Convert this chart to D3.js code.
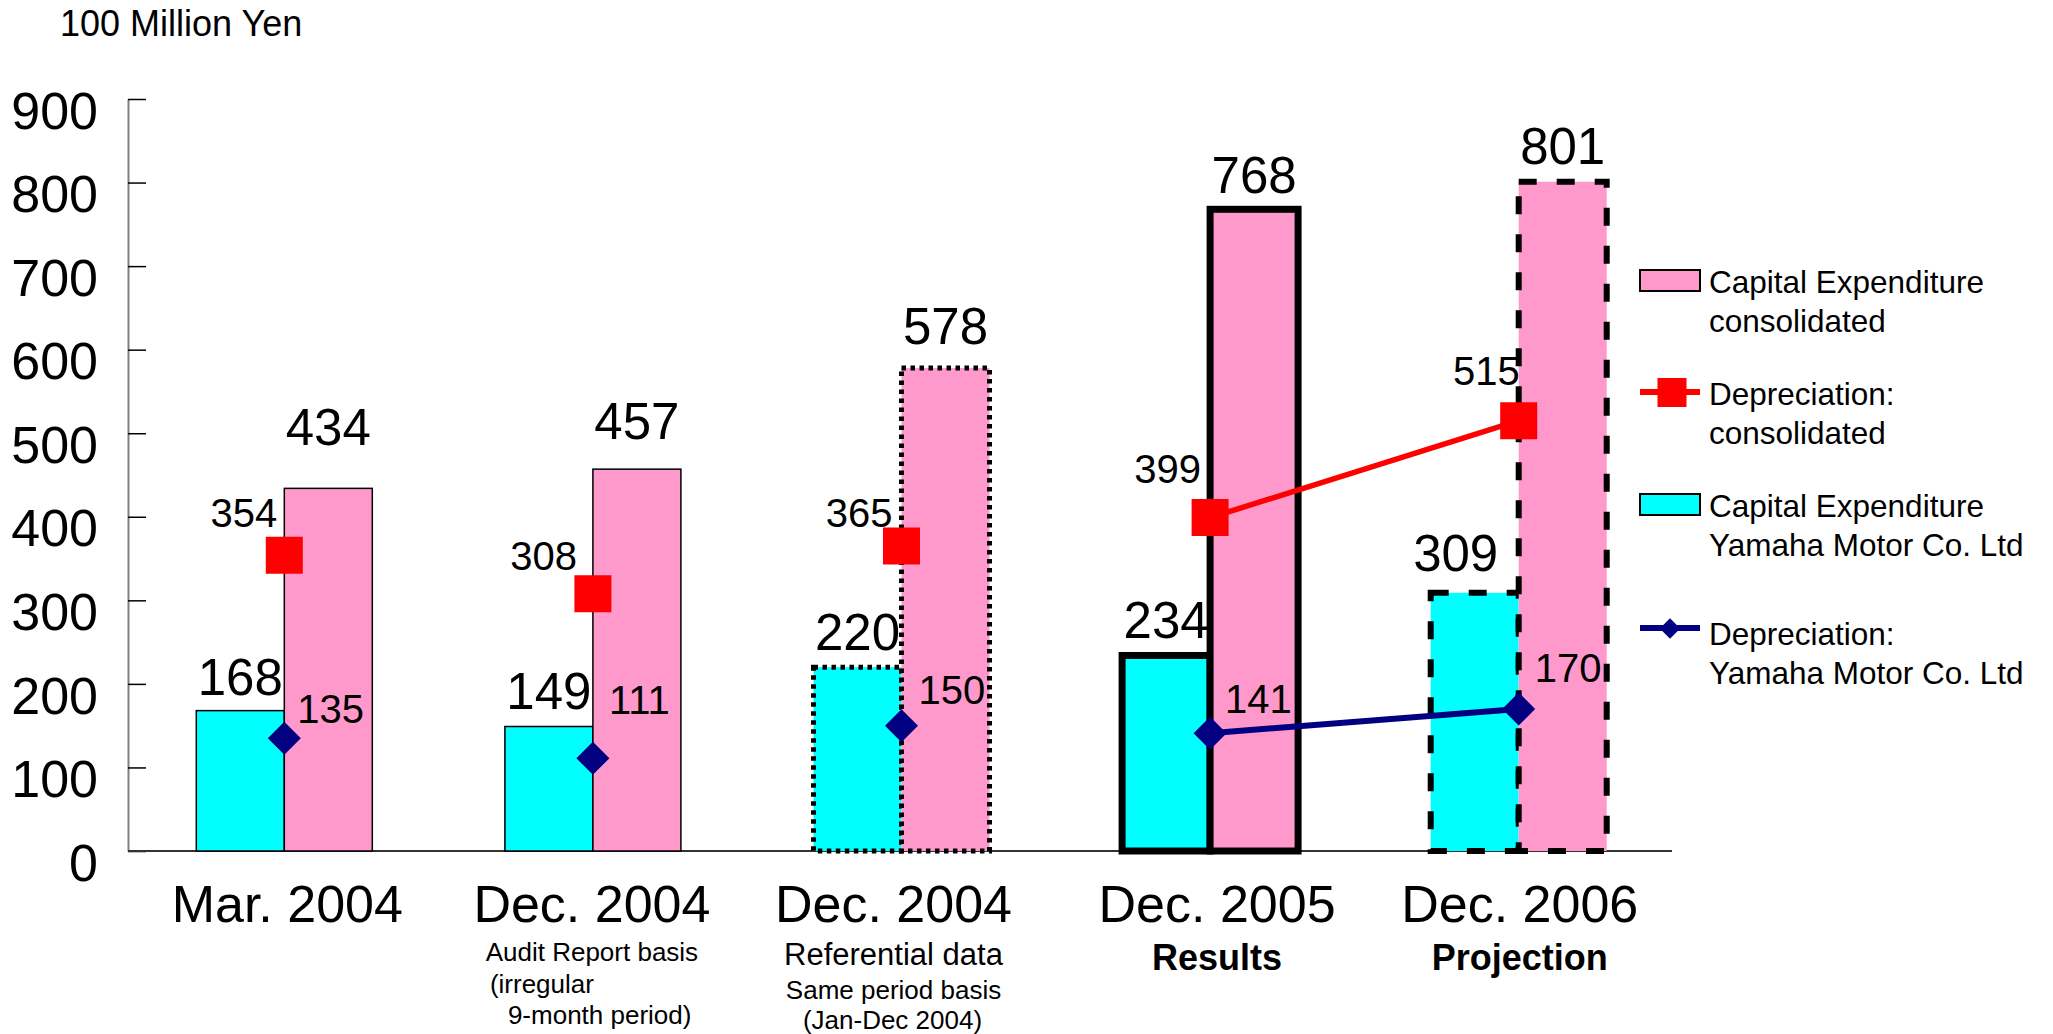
<!DOCTYPE html>
<html>
<head>
<meta charset="utf-8">
<script src="https://cdn.jsdelivr.net/npm/d3@7"></script>
<style>
  html, body { margin: 0; padding: 0; background: #fff; }
  svg { display: block; font-family: "Liberation Sans", Arial, Helvetica, sans-serif; }
</style>
</head>
<body>
<svg id="chart" width="2053" height="1034"></svg>
<script>
// ---- data (100 million yen) ----
const periods = ["Mar. 2004", "Dec. 2004", "Dec. 2004", "Dec. 2005", "Dec. 2006"];
const periodBasis = ["fiscal", "audit", "referential", "results", "projection"];
const periodNotes = [
  [],
  ["Audit Report basis", "(irregular", "9-month period)"],
  ["Referential data", "Same period basis", "(Jan-Dec 2004)"],
  ["Results"],
  ["Projection"]
];
const capexConsolidated = [434, 457, 578, 768, 801];
const capexYamaha = [168, 149, 220, 234, 309];
const deprConsolidated = [354, 308, 365, 399, 515];
const deprYamaha = [135, 111, 150, 141, 170];
const yTicks = [0, 100, 200, 300, 400, 500, 600, 700, 800, 900];
const unitLabel = "100 Million Yen";
const legendItems = [
  ["Capital Expenditure", "consolidated"],
  ["Depreciation:", "consolidated"],
  ["Capital Expenditure", "Yamaha Motor Co. Ltd"],
  ["Depreciation:", "Yamaha Motor Co. Ltd"]
];

// ---- label placement tweaks (pixels) ----
const consLabelLift = [43, 30, 24, 16, 18];
const yamahaLabelLift = [16, 18, 17, 17, 22];
const yamahaLabelShift = [0, 0, 0, 0, -19];
const deprConsLabelDy = [-28, -24, -19, -35, -36];
const deprConsLabelDx = [-7, -16, -9, -9, 1];
const deprYamahaLabelDy = [-15, -44, -22, -20, -27];
const deprYamahaLabelDx = [13, 16, 17, 15, 16];
const categoryDx = [3, -1, -8, 7, 1];

// ---- colours & outline styles ----
const PINK = "#FF99CC", CYAN = "#00FFFF", RED = "#FF0000", NAVY = "#000080";
const outline = {
  fiscal:      { w: 1.5, dash: null },
  audit:       { w: 1.5, dash: null },
  referential: { w: 5,   dash: "4.5,4.5" },
  results:     { w: 7,   dash: null },
  projection:  { w: 6,   dash: "18,20" }
};

const svg = d3.select("#chart");
const idx = d3.range(periods.length);

const x = d3.scaleBand().domain(idx).range([130, 1673]);
const barW = 88;
const sub = d3.scaleBand().domain(["yamaha", "cons"])
  .range([x.bandwidth() / 2 - barW, x.bandwidth() / 2 + barW]);
const cx = i => x(i) + x.bandwidth() / 2;
const y = d3.scaleLinear().domain([0, 900]).range([851, 99]);

// unit title
svg.append("text").attr("x", 60).attr("y", 36)
  .attr("font-size", 36).text(unitLabel);

// y axis (ticks point inward)
const yAxis = svg.append("g").attr("transform", "translate(128,0)")
  .call(d3.axisLeft(y).tickValues(yTicks).tickSize(-18).tickSizeOuter(0).tickPadding(30));
yAxis.select(".domain").attr("stroke", "#808080").attr("stroke-width", 2);
yAxis.selectAll(".tick line").attr("stroke", "#000").attr("stroke-width", 1.5);
yAxis.selectAll(".tick text")
  .attr("font-size", 52).attr("font-family", "Liberation Sans, Arial, sans-serif")
  .attr("fill", "#000").attr("dy", "0.56em");

// x baseline
svg.append("line").attr("x1", 128).attr("x2", 1672)
  .attr("y1", y(0)).attr("y2", y(0)).attr("stroke", "#333").attr("stroke-width", 2);

// bars
const groups = svg.append("g").selectAll("g").data(idx).join("g")
  .attr("transform", i => `translate(${x(i)},0)`);

function drawBar(g, key, values, fill) {
  g.append("rect")
    .attr("x", sub(key)).attr("width", sub.bandwidth())
    .attr("y", i => y(values[i])).attr("height", i => y(0) - y(values[i]))
    .attr("fill", fill)
    .attr("stroke", "#000")
    .attr("stroke-width", i => outline[periodBasis[i]].w)
    .attr("stroke-dasharray", i => outline[periodBasis[i]].dash);
}
groups.each(function (i) {
  const g = d3.select(this).datum(i);
  drawBar(g, "yamaha", capexYamaha, CYAN);
  drawBar(g, "cons", capexConsolidated, PINK);
});

// depreciation lines: only the calendar-year periods are linked
const linked = i => periodBasis[i] === "results" || periodBasis[i] === "projection";
const lineGen = vals => d3.line().defined(i => linked(i)).x(i => cx(i)).y(i => y(vals[i]));
svg.append("path").attr("d", lineGen(deprConsolidated)(idx))
  .attr("fill", "none").attr("stroke", RED).attr("stroke-width", 5.5);
svg.append("path").attr("d", lineGen(deprYamaha)(idx))
  .attr("fill", "none").attr("stroke", NAVY).attr("stroke-width", 6);

// markers
svg.append("g").selectAll("path").data(idx).join("path")
  .attr("d", d3.symbol(d3.symbolSquare, 37 * 37))
  .attr("transform", i => `translate(${cx(i)},${y(deprConsolidated[i])})`)
  .attr("fill", RED);
svg.append("g").selectAll("path").data(idx).join("path")
  .attr("d", d3.symbol(d3.symbolSquare, 545))
  .attr("transform", i => `translate(${cx(i)},${y(deprYamaha[i])}) rotate(45)`)
  .attr("fill", NAVY);

// value labels
const labels = svg.append("g").attr("fill", "#000");
labels.selectAll(".lc").data(idx).join("text").attr("class", "lc")
  .attr("font-size", 51).attr("text-anchor", "middle")
  .attr("x", i => x(i) + sub("cons") + sub.bandwidth() / 2)
  .attr("y", i => y(capexConsolidated[i]) - consLabelLift[i])
  .text(i => capexConsolidated[i]);
labels.selectAll(".ly").data(idx).join("text").attr("class", "ly")
  .attr("font-size", 51).attr("text-anchor", "middle")
  .attr("x", i => x(i) + sub("yamaha") + sub.bandwidth() / 2 + yamahaLabelShift[i])
  .attr("y", i => y(capexYamaha[i]) - yamahaLabelLift[i])
  .text(i => capexYamaha[i]);
labels.selectAll(".dc").data(idx).join("text").attr("class", "dc")
  .attr("font-size", 40).attr("text-anchor", "end")
  .attr("x", i => cx(i) + deprConsLabelDx[i])
  .attr("y", i => y(deprConsolidated[i]) + deprConsLabelDy[i])
  .text(i => deprConsolidated[i]);
labels.selectAll(".dy").data(idx).join("text").attr("class", "dy")
  .attr("font-size", 40).attr("text-anchor", "start")
  .attr("x", i => cx(i) + deprYamahaLabelDx[i])
  .attr("y", i => y(deprYamaha[i]) + deprYamahaLabelDy[i])
  .text(i => deprYamaha[i]);

// category labels
const cat = svg.append("g").attr("fill", "#000");
cat.selectAll(".cat").data(idx).join("text").attr("class", "cat")
  .attr("font-size", 52).attr("text-anchor", "middle")
  .attr("x", i => cx(i) + categoryDx[i]).attr("y", 922)
  .text(i => periods[i]);

// notes under the category labels
const noteStyle = {
  audit: [
    { size: 26, anchor: "middle", dx: -1, y: 961 },
    { size: 26, anchor: "start", dx: -103, y: 993 },
    { size: 26, anchor: "start", dx: -85, y: 1024 }
  ],
  referential: [
    { size: 31, anchor: "middle", dx: -8, y: 965 },
    { size: 26, anchor: "middle", dx: -8, y: 999 },
    { size: 26, anchor: "middle", dx: -9, y: 1029 }
  ],
  results: [{ size: 36, anchor: "middle", dx: 7, y: 970, bold: true }],
  projection: [{ size: 36, anchor: "middle", dx: 1, y: 970, bold: true }]
};
idx.forEach(i => {
  const st = noteStyle[periodBasis[i]];
  periodNotes[i].forEach((t, k) => {
    const s = st[k];
    cat.append("text").attr("font-size", s.size).attr("text-anchor", s.anchor)
      .attr("font-weight", s.bold ? "bold" : null)
      .attr("x", cx(i) + s.dx).attr("y", s.y).text(t);
  });
});

// legend
const lg = svg.append("g");
const lgTop = [293, 405, 517, 645];
lg.append("rect").attr("x", 1640).attr("y", 270).attr("width", 60).attr("height", 21)
  .attr("fill", PINK).attr("stroke", "#000").attr("stroke-width", 2);
lg.append("line").attr("x1", 1640).attr("x2", 1700).attr("y1", 392).attr("y2", 392)
  .attr("stroke", RED).attr("stroke-width", 6);
lg.append("path").attr("d", d3.symbol(d3.symbolSquare, 29 * 29))
  .attr("transform", "translate(1672,392.5)").attr("fill", RED);
lg.append("rect").attr("x", 1640).attr("y", 494).attr("width", 60).attr("height", 21)
  .attr("fill", CYAN).attr("stroke", "#000").attr("stroke-width", 2);
lg.append("line").attr("x1", 1640).attr("x2", 1700).attr("y1", 628).attr("y2", 628)
  .attr("stroke", NAVY).attr("stroke-width", 6);
lg.append("path").attr("d", d3.symbol(d3.symbolSquare, 210))
  .attr("transform", "translate(1670,628.5) rotate(45)").attr("fill", NAVY);
legendItems.forEach((lines, k) => {
  lines.forEach((t, j) => {
    lg.append("text").attr("x", 1709).attr("y", lgTop[k] + j * 38.5)
      .attr("font-size", 31.5).attr("fill", "#000").text(t);
  });
});
</script>
</body>
</html>
